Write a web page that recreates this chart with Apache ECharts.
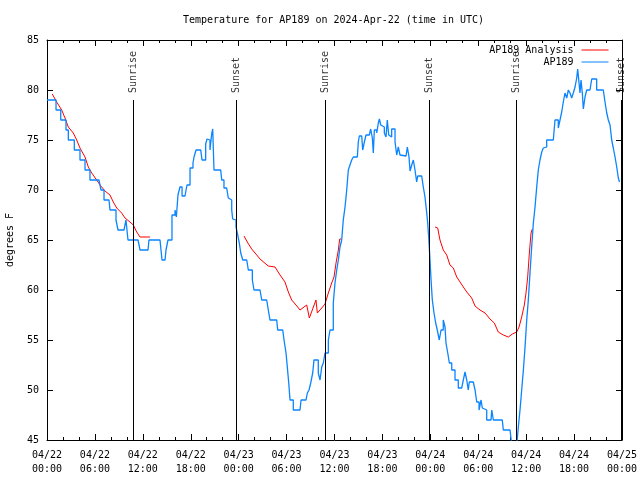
<!DOCTYPE html>
<html>
<head>
<meta charset="utf-8">
<script src="https://cdn.jsdelivr.net/npm/echarts@6/dist/echarts.min.js"></script>
<style>html,body{margin:0;padding:0;background:#fff}#c{width:640px;height:480px}</style>
</head>
<body>
<div id="c"></div>
<script>
// hours since 2024-04-22 00:00 UTC, temperature in deg F
const tickDates = ['04/22','04/22','04/22','04/22','04/23','04/23','04/23','04/23','04/24','04/24','04/24','04/24','04/25'];
const tickTimes = ['00:00','06:00','12:00','18:00','00:00','06:00','12:00','18:00','00:00','06:00','12:00','18:00','00:00'];

const sunNames = ['Sunrise','Sunset','Sunrise','Sunset','Sunrise','Sunset'];
const sunHours = [10.81, 23.75, 34.9, 47.84, 58.82, 71.88];

const ap189 = [
[0,79],[0.75,79],[1.13,78],[1.72,77],[2.38,76],[2.67,75],[3.42,74],[4.13,73],[4.76,72],[5.38,71],
[6.51,71],[6.76,70],[7.14,69],[7.76,69],[7.89,68],[8.64,67],[8.89,66],[9.64,66],[9.89,67],[10.14,65],
[10.64,65],[11.4,65],[11.65,64],[12.65,64],[12.77,65],[14.15,65],[14.4,63],[14.78,63],[14.9,64],[15.15,65],
[15.65,67.5],[16.03,68],[16.2,67.3],[16.4,69.5],[16.65,70.3],[16.91,69.4],[17.28,69.4],[17.53,70.5],[17.91,72.2],[18.28,72.7],
[18.41,73.3],[18.66,74],[19.25,74],[19.41,73],[19.66,73],[19.87,74.6],[20.04,75.1],[20.28,75],[20.41,74],[20.62,75.6],
[20.75,76.1],[20.91,72],[21.75,72],[21.88,71],[22.16,70.2],[22.5,70],[22.7,69.2],[22.92,69],[23.13,68],[23.25,67.1],
[23.48,67],[23.67,66.3],[23.83,65.7],[24.08,64.7],[24.26,63.7],[24.51,63],[25.01,63],[25.21,62],[25.42,62],[25.71,61],
[25.92,60],[26.67,60],[26.89,59],[27.51,59],[27.71,58],[27.92,57],[28.76,57],[28.89,56],[29.52,56],[29.68,55],
[29.93,53.7],[30.09,52.3],[30.27,50.7],[30.43,49],[30.84,48],[31.68,48],[31.81,49],[32.43,49],[32.6,49.7],[32.81,50],
[33.02,50.7],[33.27,51.7],[33.43,53],[33.68,53],[33.97,51.7],[34.19,51],[34.4,52.3],[34.6,52.7],[34.81,53.7],[35.03,53.7],
[35.23,55],[35.44,56],[35.85,58.7],[36.06,60.7],[36.28,62],[36.48,63],[36.69,64.3],[36.9,65],[37.1,67],[37.32,68.3],
[37.53,70],[37.73,72],[37.94,72.5],[38.15,73],[38.36,73.3],[38.86,73.3],[38.98,74.8],[39.11,75.4],[39.41,75.4],[39.53,74],
[39.74,74.8],[39.95,75.5],[40.11,75.5],[40.36,75.7],[40.53,76.1],[40.74,75.2],[40.86,73.7],[40.99,76],[41.29,75.7],[41.49,76.7],
[41.62,77.1],[41.79,76.5],[42.04,76.3],[42.24,75.7],[42.45,75.3],[42.61,77],[42.79,75.5],[42.95,75.3],[43.16,76.1],[43.37,76.1],
[43.58,74.8],[43.79,73.5],[43.99,74.3],[44.2,73.5],[44.42,73.4],[44.96,73.4],[45.12,74.3],[45.33,73.3],[45.46,71.9],[45.67,72.5],
[45.87,73],[46.08,72],[46.29,70.8],[46.42,71.4],[46.62,71.4],[46.92,71.3],[47.12,70.3],[47.33,69.3],[47.55,67.7],[47.67,66.7],
[47.8,65.2],[47.84,65],[47.96,63],[48.09,61],[48.25,59],[48.46,57.7],[48.67,56.7],[48.87,56],[49.12,55],[49.34,56],
[49.62,57],[49.84,56.3],[49.96,54.7],[50.18,53.7],[50.38,52.7],[50.68,52],[51.09,51],[51.5,50.2],[51.93,50],[52.13,51],
[52.34,51.8],[52.56,51],[52.75,50],[52.88,50.8],[53.09,50.8],[53.38,50.8],[53.6,50],[53.81,48.8],[54.1,48],[54.35,49],
[54.51,48.2],[54.76,48],[55.06,47],[55.6,47],[55.69,48],[55.89,47],[57.01,47],[57.14,46],[57.98,46],[58.19,44.5],
[58.82,44.5],[59.02,46.3],[59.23,48],[59.44,50],[59.65,52],[59.86,54.3],[60.07,57],[60.27,59],[60.48,61.7],[60.69,64.3],
[60.9,66.7],[61.11,68.3],[61.32,70.3],[61.52,72],[61.73,73],[61.95,73.8],[62.15,74.2],[62.36,74.3],[62.57,75],[63.4,75],
[63.61,77],[63.82,77],[64.02,76.2],[64.24,77],[64.45,77.8],[64.65,78.8],[64.86,79.7],[65.08,79.2],[65.28,80],[65.49,79.7],
[65.7,79.2],[65.9,79.7],[66.12,80.3],[66.33,81.2],[66.45,82.1],[66.62,80.7],[66.74,79.7],[66.87,81],[67.03,79.7],[67.16,78.1],
[67.37,79.3],[67.58,80],[67.99,80],[68.21,81.1],[68.53,81.1],[68.83,80],[69.66,80],[69.87,78.8],[70.09,77.7],[70.29,77],
[70.5,76.5],[70.71,75],[70.91,74.2],[71.13,73.3],[71.34,72.3],[71.54,71.2],[71.69,70.8]
];

const analysisSeg1 = [
[0.66,79.6],[1.21,78.8],[1.84,78],[2.25,77.2],[2.67,76.3],[3.29,75.7],[3.72,75],[4.13,74.2],[4.76,73.3],[5.17,72.3],
[5.6,71.7],[6.22,71],[6.64,70.5],[7.26,69.9],[7.89,69.5],[8.3,68.8],[8.73,68.2],[9.35,67.7],[9.77,67.2],[10.39,66.8],
[10.81,66.5],[11.23,65.8],[11.65,65.3],[12.9,65.3]
];
const analysisSeg2 = [
[24.67,65.4],[25.08,64.8],[25.63,64.1],[26.26,63.5],[26.67,63.1],[27.71,62.4],[28.55,62.3],[29.18,61.5],[29.8,60.8],[30.22,59.8],
[30.64,59],[31.18,58.5],[31.68,58],[32.52,58.5],[32.72,58.6],[32.85,57.2],[33.68,59],[33.85,57.7],[34.4,58.2],[34.81,58.6],
[35.23,59.7],[35.65,60.7],[35.94,61.3],[36.19,62.7],[36.48,64],[36.65,65.1],[36.82,65.1]
];
const analysisSeg3 = [
[48.59,66.3],[48.92,66.2],[49.21,65],[49.62,64],[50.05,63.5],[50.46,62.5],[50.88,62.2],[51.3,61.3],[51.72,60.8],[52.13,60.3],
[52.56,59.8],[53.18,59.2],[53.6,58.4],[54.22,58],[54.85,57.7],[55.47,57.1],[56.01,56.7],[56.51,55.8],[57.14,55.5],[57.77,55.3],
[58.27,55.6],[58.82,55.8],[59.11,56.3],[59.44,57.3],[59.77,58.5],[59.98,59.7],[60.19,61.3],[60.4,63.7],[60.61,65.7],[60.77,66.1]
];

const FONT = '"DejaVu Sans Mono", "Liberation Mono", monospace';
const analysis = [].concat(analysisSeg1, [[18, '-']], analysisSeg2, [[42, '-']], analysisSeg3);

const xBase = {
  type: 'value', min: 0, max: 72, interval: 6,
  axisLine: { onZero: false, lineStyle: { color: '#000', width: 1 } },
  axisTick: { inside: true, length: 6, lineStyle: { color: '#000' } },
  minorTick: { show: true, splitNumber: 3, length: 3, lineStyle: { color: '#000' } },
  splitLine: { show: false }
};
const yBase = {
  type: 'value', min: 45, max: 85, interval: 5,
  axisLine: { show: true, onZero: false, lineStyle: { color: '#000', width: 1 } },
  axisTick: { inside: true, length: 6, lineStyle: { color: '#000' } },
  splitLine: { show: false }
};

const chart = echarts.init(document.getElementById('c'), null, { renderer: 'canvas' });
chart.setOption({
  animation: false,
  backgroundColor: '#fff',
  title: {
    text: 'Temperature for AP189 on 2024-Apr-22 (time in UTC)',
    left: 183, top: 15, padding: 0,
    textStyle: { fontFamily: FONT, fontSize: 10, fontWeight: 'normal', color: '#000' }
  },
  legend: {
    data: ['AP189 Analysis', 'AP189'],
    orient: 'vertical', align: 'right',
    right: 31, top: 44, padding: 0,
    itemWidth: 27, itemHeight: 12, itemGap: 0,
    itemStyle: { opacity: 0 },
    lineStyle: { width: 1 },
    textStyle: { fontFamily: FONT, fontSize: 10, color: '#000', lineHeight: 12, padding: [0, 3, 0, 0] }
  },
  grid: { left: 47, right: 18, top: 40, bottom: 40, outerBoundsMode: 'none', containLabel: false },
  xAxis: [
    Object.assign({}, xBase, {
      position: 'bottom',
      axisLabel: {
        fontFamily: FONT, fontSize: 10, color: '#000', margin: 8, lineHeight: 14,
        formatter: function (v) { const i = Math.round(v / 6); return tickDates[i] + '\n' + tickTimes[i]; }
      }
    }),
    Object.assign({}, xBase, { position: 'top', axisLabel: { show: false } })
  ],
  yAxis: [
    Object.assign({}, yBase, {
      position: 'left',
      name: 'degrees F', nameLocation: 'middle', nameGap: 32, nameRotate: 90,
      nameTextStyle: { fontFamily: FONT, fontSize: 10, color: '#000' },
      axisLabel: { fontFamily: FONT, fontSize: 10, color: '#000', margin: 8 }
    }),
    Object.assign({}, yBase, { position: 'right', axisLabel: { show: false } })
  ],
  series: [
    {
      name: 'sun', type: 'line', data: [], silent: true,
      markLine: {
        silent: true, symbol: 'none', animation: false,
        label: { show: false },
        lineStyle: { color: '#000', width: 1, type: 'solid' },
        data: sunHours.map(h => [{ coord: [h, 79] }, { coord: [h, 45] }])
      }
    },
    {
      name: 'sunLabels', type: 'scatter', symbolSize: 0, silent: true,
      data: sunHours.map(h => [h, 79]),
      label: {
        show: true, position: [0, -7], rotate: 90, align: 'left', verticalAlign: 'middle',
        fontFamily: FONT, fontSize: 10, color: '#000',
        formatter: p => sunNames[p.dataIndex]
      }
    },
    {
      name: 'AP189 Analysis', type: 'line', data: analysis, symbol: 'none', showSymbol: false,
      connectNulls: false, color: '#ff0000',
      lineStyle: { color: '#ff0000', width: 1 }
    },
    {
      name: 'AP189', type: 'line', data: ap189, symbol: 'none', showSymbol: false,
      step: 'end',
      color: '#0a84ff',
      lineStyle: { color: '#0a84ff', width: 1.3 }
    }
  ]
});
</script>
</body>
</html>
